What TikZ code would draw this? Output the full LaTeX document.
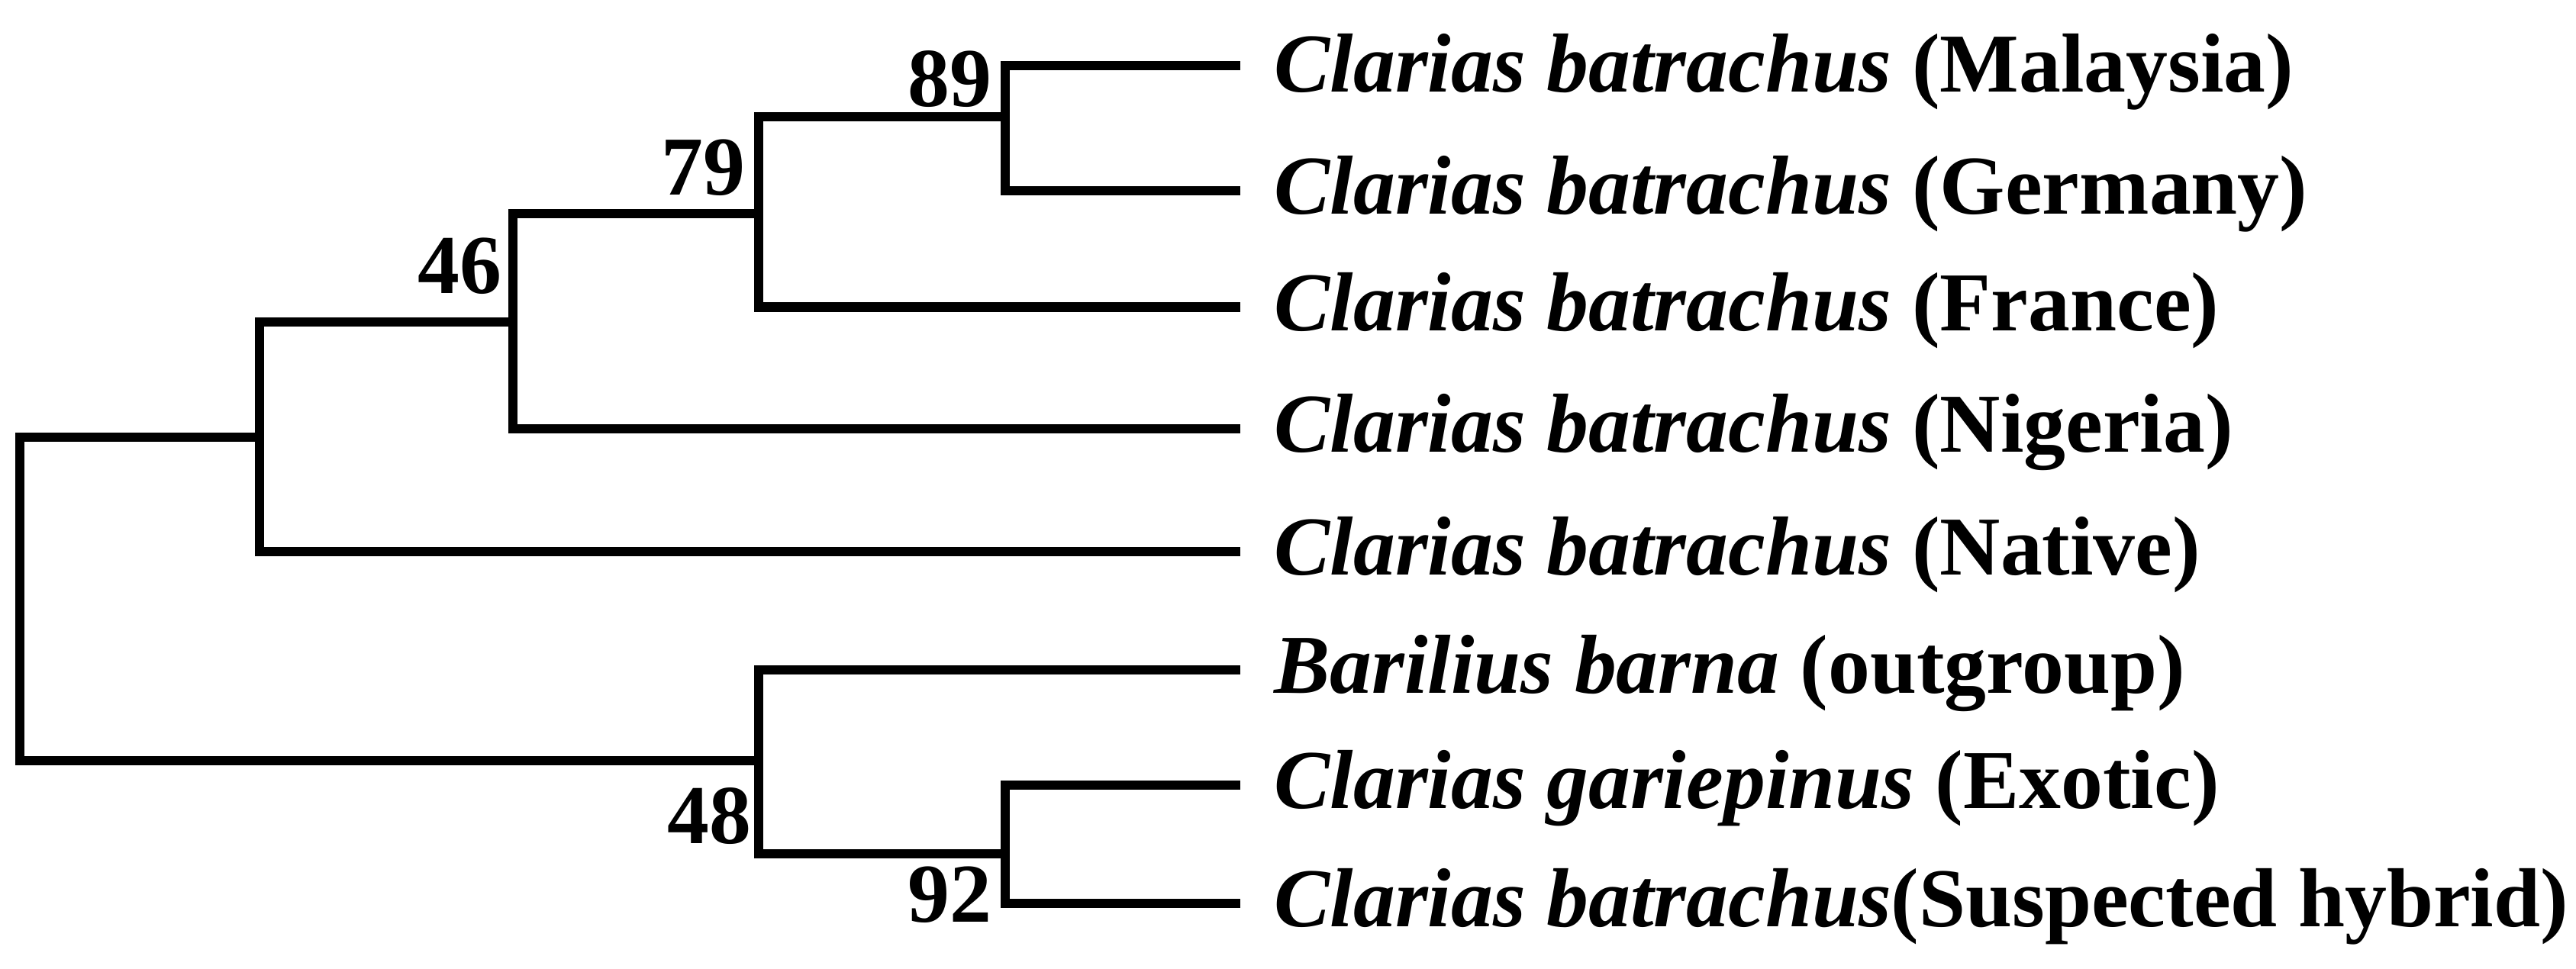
\documentclass[tikz,border=0pt]{standalone}
\usepackage{fontspec}
\setmainfont{Liberation Serif}
\usetikzlibrary{positioning}
\tikzset{
  branch/.style={line width=1.6pt, line cap=rect},
  taxon/.style={anchor=west, inner sep=0pt, font=\fontsize{14.5}{16}\selectfont\bfseries},
  boot/.style={font=\fontsize{14.5}{16}\selectfont\bfseries, inner sep=1pt}
}
\begin{document}
\begin{tikzpicture}[x=0.01cm, y=-0.01cm]
    \useasboundingbox (0,0) rectangle (1568,590);

    % leaf tips
    \coordinate (tMal) at (752,40);
    \coordinate (tGer) at (752,116);
    \coordinate (tFra) at (752,187);
    \coordinate (tNig) at (752,261);
    \coordinate (tNat) at (752,336);
    \coordinate (tBar) at (752,408);
    \coordinate (tGar) at (752,478);
    \coordinate (tHyb) at (752,550);

    % taxon names
    \node[taxon] (mal) at (775,44) {\textit{Clarias batrachus} (Malaysia)};
    \node[taxon] (ger) at (775,118) {\textit{Clarias batrachus} (Germany)};
    \node[taxon] (fra) at (775,189) {\textit{Clarias batrachus} (France)};
    \node[taxon] (nig) at (775,263) {\textit{Clarias batrachus} (Nigeria)};
    \node[taxon] (nat) at (775,338) {\textit{Clarias batrachus} (Native)};
    \node[taxon] (bar) at (775,410) {\textit{Barilius barna} (outgroup)};
    \node[taxon] (gar) at (775,480) {\textit{Clarias gariepinus} (Exotic)};
    \node[taxon] (hyb) at (775,552) {\textit{Clarias batrachus}(Suspected hybrid)};

    % internal branches
    \draw[branch] (tMal) -| (612,116) -- (tGer);
    \draw[branch] (612,71) -| (462,187) -- (tFra);
    \draw[branch] (462,130) -| (312,261) -- (tNig);
    \draw[branch] (312,196) -| (158,336) -- (tNat);
    \draw[branch] (158,266) -| (12,463) -- (462,463);
    \draw[branch] (tBar) -| (462,520) -- (612,520);
    \draw[branch] (tGar) -| (612,550) -- (tHyb);

    % bootstrap values
    \node[boot] (b89) at (578,48) {89};
    \node[boot] (b79) at (428,102) {79};
    \node[boot] (b46) at (280,162) {46};
    \node[boot] (b48) at (432,497) {48};
    \node[boot] (b92) at (578,545) {92};
\end{tikzpicture}
\end{document}
